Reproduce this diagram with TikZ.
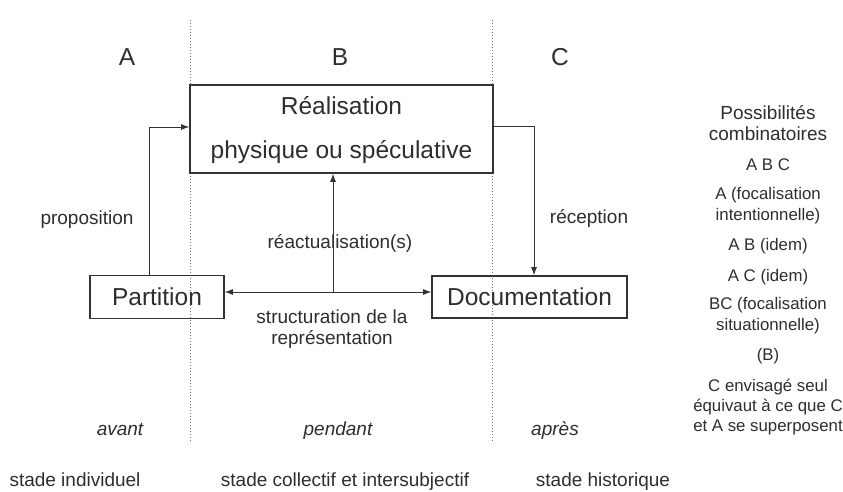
\documentclass[tikz,border=0pt]{standalone}
\usepackage{fontspec}
\setmainfont{Liberation Sans}
\usetikzlibrary{arrows.meta}
\begin{document}
\begin{tikzpicture}[x=1pt,y=-1pt,
  txt/.style={text=black!82, inner sep=0pt},
  big/.style={txt, font=\fontsize{24.5}{28}\selectfont},
  mid/.style={txt, font=\fontsize{19}{21}\selectfont},
  one/.style={text height=14pt, text depth=4pt},
  sml/.style={txt, font=\fontsize{16.8}{21}\selectfont, align=center},
  boxnode/.style={draw=black!80, line width=1.6pt, inner sep=0pt, big},
  arr/.style={draw=black!80, line width=0.9pt, -{Latex[length=8pt,width=6pt]}},
  sep/.style={draw=black!55, line width=1pt, dotted}]
\useasboundingbox[fill=white] (0,0) rectangle (843,492);
% separators
\draw[sep] (190,20) -- (190,442);
\draw[sep] (492,20) -- (492,442);
% headings
\node[big] (hA) at (127,57) {A};
\node[big] (hB) at (340,57) {B};
\node[big] (hC) at (560,57) {C};
% boxes
\node[boxnode, minimum width=303pt, minimum height=88pt, align=center] (real) at (341.5,129) {};
\node[big] (realA) at (341.5,106) {Réalisation};
\node[big] (realB) at (341.5,152) {physique ou spéculative};
\node[boxnode, minimum width=134pt, minimum height=43pt] (part) at (157,297) {Partition};
\node[boxnode, minimum width=195pt, minimum height=42pt] (doc) at (529.5,297) {Documentation};
% connectors
\coordinate (m) at (333,292);
\draw[arr] ([xshift=-8pt]part.north) |- ([yshift=2pt]real.west);
\draw[arr] ([yshift=3pt]real.east) -| ([xshift=4.5pt]doc.north);
\draw[arr, {Latex[length=8pt,width=6pt]}-{Latex[length=8pt,width=6pt]}] (part.east |- m) -- (doc.west |- m);
\draw[arr] (m) -- (real.south -| m);
% labels
\node[mid, one] (lprop) at (87,219) {proposition};
\node[mid, one] (lreact) at (340,243) {réactualisation(s)};
\node[mid, one] (lrecep) at (589,218) {réception};
\node[mid, align=center] (lstruct) at (332,329) {structuration de la\\représentation};
\node[mid, one, font=\fontsize{19}{21}\selectfont\itshape] (lav) at (120,430) {avant};
\node[mid, one, font=\fontsize{19}{21}\selectfont\itshape] (lpen) at (338,430) {pendant};
\node[mid, one, font=\fontsize{19}{21}\selectfont\itshape] (lap) at (555,430) {après};
\node[mid, one] (s1) at (75,481) {stade individuel};
\node[mid, one] (s2) at (345,481) {stade collectif et intersubjectif};
\node[mid, one] (s3) at (603,481) {stade historique};
% right column
\node[mid, align=center] (poss) at (768,123) {Possibilités\\combinatoires};
\node[sml] (c1) at (768,165) {A B C};
\node[sml] (c2) at (768,205.5) {A (focalisation\\intentionnelle)};
\node[sml] (c3) at (768,246) {A B (idem)};
\node[sml] (c4) at (768,277) {A C (idem)};
\node[sml] (c5) at (768,315.5) {BC (focalisation\\situationnelle)};
\node[sml] (c6) at (768,356) {(B)};
\node[sml, font=\fontsize{16.8}{20}\selectfont] (c7) at (768,407) {C envisagé seul\\équivaut à ce que C\\et A se superposent};
\end{tikzpicture}
\end{document}
